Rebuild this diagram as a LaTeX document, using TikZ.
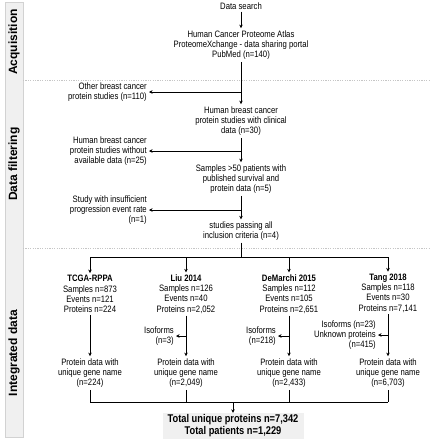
\documentclass[tikz,border=0pt]{standalone}
\usepackage{fontspec}
\setmainfont{Liberation Sans}[FakeStretch=0.83]
\newfontfamily\phasefont{Liberation Sans}
\usetikzlibrary{arrows.meta, positioning, calc}

\begin{document}
\begin{tikzpicture}[x=1pt, y=-1pt,
    txt/.style={font=\fontsize{9.3}{10.3}\selectfont, align=center, inner sep=2pt},
    side/.style={txt, align=right, anchor=east},
    head/.style={txt},
    arr/.style={-{Stealth[length=3.5pt, width=3.5pt]}, line width=1pt},
    ln/.style={line width=1pt},
    phase/.style={font=\phasefont\fontsize{12}{14}\selectfont\bfseries, rotate=90},
    sep/.style={gray!45, dash pattern=on 1.2pt off 1.2pt, line width=0.5pt}]
    \useasboundingbox (0,0) rectangle (430,440);

    % Phase bar
    \draw[gray!35, fill=gray!12] (5,2) rectangle (23,437);
    \node[phase] (acq) at (14,42) {Acquisition};
    \node[phase] (filt) at (14,164) {Data filtering};
    \node[phase] (integ) at (14,353) {Integrated data};
    \draw[sep] (23,80) -- (430,80);
    \draw[sep] (23,248) -- (430,248);

    % Acquisition
    \node[txt] (search) at (241,6) {Data search};
    \node[txt] (atlas) at (241,45) {Human Cancer Proteome Atlas\\ProteomeXchange - data sharing portal\\PubMed (n=140)};
    \draw[arr] (search) -- (atlas);

    % Data filtering
    \node[txt] (clinical) at (241,121) {Human breast cancer\\protein studies with clinical\\data (n=30)};
    \node[side] (other) at (149,92) {Other breast cancer\\protein studies (n=110)};
    \draw[arr] (atlas) -- (clinical);
    \draw[arr] (atlas.south |- other.east) -- (other.east);

    \node[txt] (fifty) at (241,179) {Samples >50 patients with\\published survival and\\protein data (n=5)};
    \node[side] (without) at (149,151) {Human breast cancer\\protein studies without\\available data (n=25)};
    \draw[arr] (clinical) -- (fifty);
    \draw[arr] (clinical.south |- without.east) -- (without.east);

    \node[txt] (passing) at (241,231) {studies passing all\\inclusion criteria (n=4)};
    \node[side] (insuff) at (149,210) {Study with insufficient\\progression event rate\\(n=1)};
    \draw[arr] (fifty) -- (passing);
    \draw[arr] (fifty.south |- insuff.east) -- (insuff.east);

    % Integrated data
    \coordinate (split) at (241,257);
    \node[head] (tcga) at (90,294) {\textbf{TCGA-RPPA}\\Samples n=873\\Events n=121\\Proteins n=224};
    \node[head] (liu) at (186,294) {\textbf{Liu 2014}\\Samples n=126\\Events n=40\\Proteins n=2,052};
    \node[head] (demarchi) at (289,294) {\textbf{DeMarchi 2015}\\Samples n=112\\Events n=105\\Proteins n=2,651};
    \node[head] (tang) at (388,293) {\textbf{Tang 2018}\\Samples n=118\\Events n=30\\Proteins n=7,141};
    \draw[ln] (passing) -- (split);
    \draw[ln] (tcga.north |- split) -- (tang.north |- split);
    \foreach \c in {tcga, liu, demarchi, tang}
        \draw[arr] (\c.north |- split) -- (\c.north);

    \node[head] (pdtcga) at (90,373) {Protein data with\\unique gene name\\(n=224)};
    \node[head] (pdliu) at (186,373) {Protein data with\\unique gene name\\(n=2,049)};
    \node[head] (pddemarchi) at (289,373) {Protein data with\\unique gene name\\(n=2,433)};
    \node[head] (pdtang) at (388,373) {Protein data with\\unique gene name\\(n=6,703)};
    \foreach \c in {tcga, liu, demarchi, tang}
        \draw[arr] (\c) -- (pd\c);

    \node[side] (isoliu) at (176,336) {Isoforms\\(n=3)};
    \node[side] (isodemarchi) at (278,336) {Isoforms\\(n=218)};
    \node[side] (isotang) at (378,335) {Isoforms (n=23)\\Unknown proteins\\(n=415)};
    \foreach \c in {liu, demarchi, tang}
        \draw[arr] (\c.south |- iso\c.east) -- (iso\c.east);

    % Total
    \coordinate (merge) at (233,402);
    \node[fill=gray!12, minimum width=141pt, minimum height=26pt, inner sep=0pt,
        font=\fontsize{11.2}{12}\selectfont\bfseries, align=center] (total) at (233,426)
        {Total unique proteins n=7,342\\Total patients n=1,229};
    \foreach \c in {tcga, liu, demarchi, tang}
        \draw[ln] (pd\c) -- (pd\c.south |- merge);
    \draw[ln] (pdtcga.south |- merge) -- (pdtang.south |- merge);
    \draw[arr] (merge) -- (total);
\end{tikzpicture}
\end{document}
